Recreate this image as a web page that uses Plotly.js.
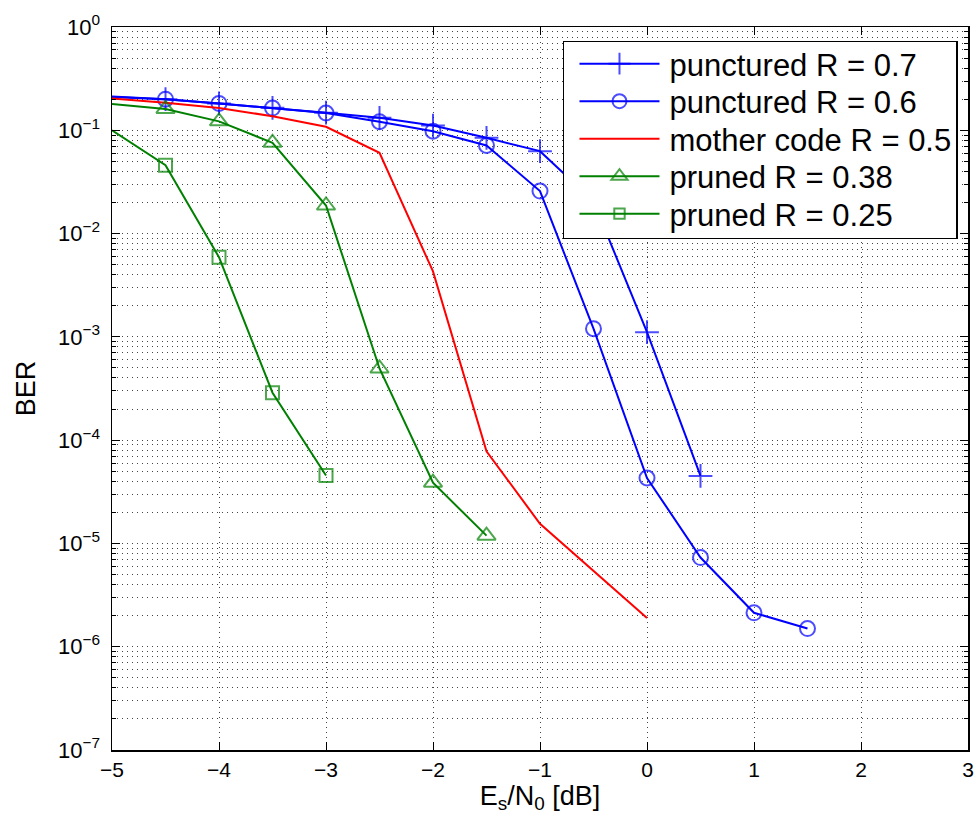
<!DOCTYPE html>
<html>
<head>
<meta charset="utf-8">
<script src="https://cdn.plot.ly/plotly-3.0.1.min.js"></script>
<style>html,body{margin:0;padding:0;background:#fff;}#chart{width:979px;height:825px;}</style>
</head>
<body>
<div id="chart"></div>
<script>
// ---- data ----
const seriesNames = ["punctured R = 0.7", "punctured R = 0.6", "mother code R = 0.5", "pruned R = 0.38", "pruned R = 0.25"];

const xP07 = [-5, -4.5, -4, -3.5, -3, -2.5, -2, -1.5, -1, -0.5, 0, 0.5];
const yP07 = [0.212, 0.200, 0.182, 0.165, 0.148, 0.132, 0.111, 0.0846, 0.0628, 0.0205, 1.11e-3, 4.5e-5];

const xP06 = [-5, -4.5, -4, -3.5, -3, -2.5, -2, -1.5, -1, -0.5, 0, 0.5, 1, 1.5];
const yP06 = [0.210, 0.200, 0.182, 0.164, 0.147, 0.121, 0.098, 0.0713, 0.0258, 1.2e-3, 4.3e-5, 7.3e-6, 2.13e-6, 1.5e-6];

const xM05 = [-5, -4.5, -4, -3.5, -3, -2.5, -2, -1.5, -1, -0.5, 0];
const yM05 = [0.203, 0.185, 0.164, 0.137, 0.108, 0.0605, 4.3e-3, 7.8e-5, 1.55e-5, 5.4e-6, 1.9e-6];

const xR038 = [-5, -4.5, -4, -3.5, -3, -2.5, -2, -1.5];
const yR038 = [0.180, 0.161, 0.122, 0.0757, 0.0187, 4.94e-4, 3.87e-5, 1.19e-5];

const xR025 = [-5, -4.5, -4, -3.5, -3];
const yR025 = [0.100, 0.0459, 5.9e-3, 2.88e-4, 4.55e-5];

const yTickVals = [1e-7, 1e-6, 1e-5, 1e-4, 1e-3, 1e-2, 1e-1, 1];
const yTickText = ["10<sup>−7</sup>", "10<sup>−6</sup>", "10<sup>−5</sup>", "10<sup>−4</sup>", "10<sup>−3</sup>", "10<sup>−2</sup>", "10<sup>−1</sup>", "10<sup>0</sup>"];
const xTickVals = [-5, -4, -3, -2, -1, 0, 1, 2, 3];

// ---- styling / build ----
const BLUE = "#0000ff", RED = "#ff0000", GREEN = "#008000";
const FONT = "Liberation Sans, Arial, Helvetica, sans-serif";

// first point lies on the axis edge; the reference shows no marker there
function sizes(xs, s) { return xs.map(v => (v <= -5 ? 0 : s)); }

function mk(name, xs, ys, color, symbol, size, withMarkers) {
  const t = {
    type: "scatter",
    x: xs, y: ys, name: name,
    mode: withMarkers ? "lines+markers" : "lines",
    line: { color: color, width: 2 }
  };
  if (withMarkers) {
    t.marker = { symbol: symbol, size: sizes(xs, size), color: color, line: { color: color, width: 2 } };
  }
  return t;
}

const traces = [
  mk(seriesNames[0], xP07, yP07, BLUE, "cross-thin-open", 17, true),
  mk(seriesNames[1], xP06, yP06, BLUE, "circle-open", 15, true),
  mk(seriesNames[2], xM05, yM05, RED, null, 0, false),
  mk(seriesNames[3], xR038, yR038, GREEN, "triangle-up-open", 16, true),
  mk(seriesNames[4], xR025, yR025, GREEN, "square-open", 13, true)
];

const minorVals = [];
for (let k = -7; k < 0; k++) {
  for (let m = 2; m <= 9; m++) minorVals.push(m * Math.pow(10, k));
}

const gridCol = "#444";
const layout = {
  width: 979, height: 825,
  margin: { l: 112, r: 11, t: 27, b: 75 },
  paper_bgcolor: "#fff", plot_bgcolor: "#fff",
  font: { family: FONT, color: "#000", size: 21 },
  showlegend: true,
  legend: {
    x: 0.9883, y: 0.9813, xanchor: "right", yanchor: "top",
    bgcolor: "#fff", bordercolor: "#000", borderwidth: 1.5,
    font: { family: FONT, size: 31, color: "#000" },
    itemwidth: 95,
    traceorder: "normal"
  },
  xaxis: {
    range: [-5, 3],
    tickmode: "array", tickvals: xTickVals,
    ticks: "inside", ticklen: 8, tickwidth: 1, tickcolor: "#000",
    showline: true, linecolor: "#000", linewidth: 1.5, mirror: "allticks",
    showgrid: true, gridcolor: gridCol, gridwidth: 1, griddash: "1px,4px",
    zeroline: false,
    tickfont: { family: FONT, size: 21 },
    title: { text: "E<sub>s</sub>/N<sub>0</sub> [dB]", font: { family: FONT, size: 27 }, standoff: 4 }
  },
  yaxis: {
    type: "log", range: [-7, 0],
    tickmode: "array", tickvals: yTickVals, ticktext: yTickText,
    ticks: "inside", ticklen: 8, tickwidth: 1, tickcolor: "#000",
    showline: true, linecolor: "#000", linewidth: 1.5, mirror: "allticks",
    showgrid: true, gridcolor: gridCol, gridwidth: 1, griddash: "1px,4px",
    zeroline: false,
    ticklabelstandoff: 6,
    tickfont: { family: FONT, size: 22 },
    minor: {
      tickmode: "array", tickvals: minorVals,
      ticks: "inside", ticklen: 4, tickcolor: "#000",
      showgrid: true, gridcolor: gridCol, gridwidth: 1, griddash: "1px,4px"
    },
    title: { text: "BER", font: { family: FONT, size: 27 }, standoff: 14 }
  }
};

Plotly.newPlot("chart", traces, layout, { displayModeBar: false, staticPlot: true }).then(function (gd) {
  try {
    // lengthen legend sample lines and centre the markers on them, as in the reference
    gd.querySelectorAll(".legend .legendlines path").forEach(function (p) { p.setAttribute("d", "M15,0h80"); });
    gd.querySelectorAll(".legend .legendpoints path").forEach(function (p) { p.setAttribute("transform", "translate(55,0)"); });
    // tighten row spacing of the legend entries
    const items = gd.querySelectorAll(".legend .traces");
    const step = 37.5, lift = 5;
    let first = null;
    items.forEach(function (g, i) {
      const m = /translate\(\s*([-\d.]+)[ ,]+([-\d.]+)\s*\)/.exec(g.getAttribute("transform") || "");
      if (!m) return;
      if (first === null) first = parseFloat(m[2]);
      g.setAttribute("transform", "translate(" + m[1] + "," + (first - lift + i * step) + ")");
    });
    const bg = gd.querySelector(".legend .bg");
    if (bg) bg.setAttribute("height", 197);
  } catch (e) { /* leave legend as drawn */ }
});
</script>
</body>
</html>
